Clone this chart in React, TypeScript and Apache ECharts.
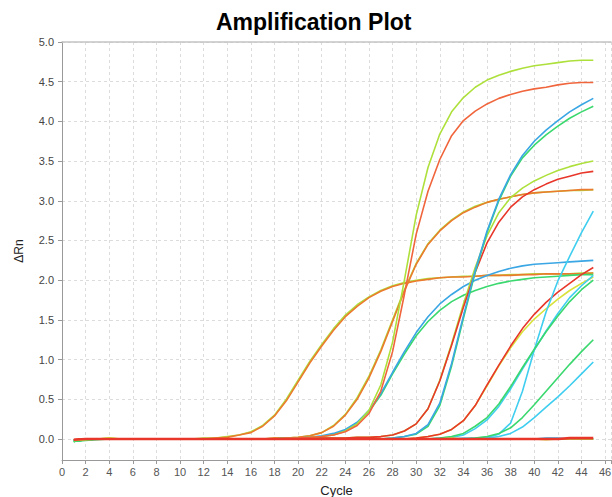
import React, { useEffect, useRef } from "react";
import * as echarts from "echarts";

// PCR cycle numbers (x axis)
const cycles = [
  1, 2, 3, 4, 5, 6, 7, 8, 9, 10, 11, 12, 13, 14, 15,
  16, 17, 18, 19, 20, 21, 22, 23, 24, 25, 26, 27, 28, 29, 30,
  31, 32, 33, 34, 35, 36, 37, 38, 39, 40, 41, 42, 43, 44, 45,
];

// ΔRn per cycle for each well
const earlyYg = [
  -0.02, 0.0, 0.0, 0.01, 0.0, 0.0, 0.0, 0.0, 0.0, 0.0, 0.0, 0.01, 0.01, 0.03, 0.05,
  0.09, 0.17, 0.3, 0.5, 0.74, 0.98, 1.19, 1.39, 1.56, 1.69, 1.79, 1.87, 1.93, 1.97, 2.0,
  2.02, 2.03, 2.04, 2.05, 2.05, 2.06, 2.06, 2.07, 2.07, 2.08, 2.08, 2.08, 2.08, 2.09, 2.09,
];
const earlyOr = [
  -0.01, 0.0, 0.0, 0.0, 0.0, 0.0, 0.0, 0.0, 0.0, 0.0, 0.0, 0.0, 0.01, 0.02, 0.05,
  0.08, 0.16, 0.29, 0.48, 0.72, 0.96, 1.17, 1.37, 1.54, 1.67, 1.78, 1.86, 1.92, 1.96, 1.99,
  2.01, 2.03, 2.04, 2.04, 2.05, 2.06, 2.06, 2.06, 2.07, 2.07, 2.08, 2.08, 2.08, 2.08, 2.09,
];
const midYg = [
  -0.02, 0.0, 0.0, 0.0, 0.0, 0.0, 0.0, 0.0, 0.0, 0.0, 0.0, 0.0, 0.0, 0.0, 0.0,
  0.0, 0.0, 0.01, 0.01, 0.02, 0.04, 0.08, 0.17, 0.31, 0.52, 0.79, 1.12, 1.5, 1.88, 2.21,
  2.46, 2.63, 2.76, 2.86, 2.93, 2.98, 3.02, 3.05, 3.08, 3.1, 3.11, 3.12, 3.13, 3.13, 3.14,
];
const midOr = [
  -0.01, 0.0, 0.0, 0.0, 0.0, 0.0, 0.0, 0.0, 0.0, 0.0, 0.0, 0.0, 0.0, 0.0, 0.0,
  0.0, 0.0, 0.01, 0.01, 0.02, 0.04, 0.08, 0.16, 0.3, 0.5, 0.77, 1.1, 1.48, 1.86, 2.2,
  2.45, 2.62, 2.75, 2.85, 2.92, 2.98, 3.02, 3.05, 3.08, 3.1, 3.11, 3.12, 3.13, 3.14, 3.14,
];
const steepYg = [
  -0.02, 0.0, 0.0, 0.0, 0.0, 0.0, 0.0, 0.0, 0.0, 0.0, 0.0, 0.0, 0.0, 0.0, 0.0,
  0.0, 0.0, 0.0, 0.01, 0.01, 0.02, 0.03, 0.05, 0.1, 0.19, 0.36, 0.68, 1.22, 2.0, 2.82,
  3.42, 3.84, 4.12, 4.3, 4.43, 4.52, 4.58, 4.63, 4.67, 4.7, 4.72, 4.74, 4.76, 4.77, 4.77,
];
const steepOr = [
  -0.01, 0.0, 0.0, 0.0, 0.0, 0.0, 0.0, 0.0, 0.0, 0.0, 0.0, 0.0, 0.0, 0.0, 0.0,
  0.0, 0.0, 0.0, 0.01, 0.01, 0.02, 0.03, 0.05, 0.09, 0.17, 0.32, 0.6, 1.1, 1.82, 2.58,
  3.12, 3.52, 3.82, 4.01, 4.13, 4.22, 4.29, 4.34, 4.38, 4.41, 4.43, 4.46, 4.48, 4.49, 4.49,
];
const tealBlue = [
  -0.02, 0.0, 0.0, 0.0, 0.0, 0.0, 0.0, 0.0, 0.0, 0.0, 0.0, 0.0, 0.0, 0.0, 0.0,
  0.0, 0.0, 0.0, 0.01, 0.01, 0.02, 0.04, 0.07, 0.12, 0.21, 0.36, 0.57, 0.84, 1.1, 1.34,
  1.54, 1.7, 1.82, 1.92, 2.0, 2.06, 2.11, 2.15, 2.18, 2.2, 2.21, 2.22, 2.23, 2.24, 2.25,
];
const tealGreen = [
  -0.03, -0.01, 0.0, 0.0, 0.0, 0.0, 0.0, 0.0, 0.0, 0.0, 0.0, 0.0, 0.0, 0.0, 0.0,
  0.0, 0.0, 0.0, 0.01, 0.01, 0.02, 0.03, 0.06, 0.11, 0.2, 0.35, 0.55, 0.82, 1.07, 1.3,
  1.48, 1.62, 1.73, 1.81, 1.87, 1.92, 1.96, 1.99, 2.01, 2.03, 2.04, 2.05, 2.06, 2.07, 2.07,
];
const p35Yg = [
  -0.02, 0.0, 0.0, 0.0, 0.0, 0.0, 0.0, 0.0, 0.0, 0.0, 0.0, 0.0, 0.0, 0.0, 0.0,
  0.0, 0.0, 0.0, 0.0, 0.0, 0.0, 0.01, 0.01, 0.01, 0.02, 0.02, 0.03, 0.05, 0.1, 0.19,
  0.38, 0.74, 1.2, 1.7, 2.16, 2.56, 2.85, 3.04, 3.16, 3.25, 3.32, 3.38, 3.43, 3.47, 3.5,
];
const p35Red = [
  -0.01, 0.0, 0.0, 0.0, 0.0, 0.0, 0.0, 0.0, 0.0, 0.0, 0.0, 0.0, 0.0, 0.0, 0.0,
  0.0, 0.0, 0.0, 0.0, 0.0, 0.0, 0.01, 0.01, 0.01, 0.02, 0.02, 0.03, 0.05, 0.1, 0.19,
  0.38, 0.73, 1.18, 1.66, 2.1, 2.47, 2.73, 2.92, 3.05, 3.14, 3.21, 3.27, 3.31, 3.35, 3.37,
];
const cbCyan = [
  -0.02, 0.0, 0.0, 0.0, 0.0, 0.0, 0.0, 0.0, 0.0, 0.0, 0.0, 0.0, 0.0, 0.0, 0.0,
  0.0, 0.0, 0.0, 0.0, 0.0, 0.0, 0.0, 0.0, 0.0, 0.0, 0.0, 0.0, 0.01, 0.03, 0.07,
  0.18, 0.45, 0.95, 1.55, 2.12, 2.62, 3.02, 3.33, 3.57, 3.75, 3.89, 4.01, 4.12, 4.21, 4.29,
];
const cbGreen = [
  -0.03, -0.01, 0.0, 0.0, 0.0, 0.0, 0.0, 0.0, 0.0, 0.0, 0.0, 0.0, 0.0, 0.0, 0.0,
  0.0, 0.0, 0.0, 0.0, 0.0, 0.0, 0.0, 0.0, 0.0, 0.0, 0.0, 0.0, 0.01, 0.03, 0.06,
  0.16, 0.42, 0.92, 1.52, 2.1, 2.6, 3.0, 3.31, 3.54, 3.7, 3.83, 3.94, 4.04, 4.12, 4.19,
];
const lateRed = [
  -0.01, 0.0, 0.0, 0.0, 0.0, 0.0, 0.0, 0.0, 0.0, 0.0, 0.0, 0.0, 0.0, 0.0, 0.0,
  0.0, 0.0, 0.0, 0.0, 0.0, 0.0, 0.0, 0.0, 0.0, 0.0, 0.0, 0.0, 0.0, 0.0, 0.01,
  0.03, 0.06, 0.12, 0.23, 0.42, 0.68, 0.93, 1.17, 1.39, 1.57, 1.72, 1.85, 1.96, 2.07, 2.16,
];
const lateYel = [
  -0.02, 0.0, 0.0, 0.0, 0.0, 0.0, 0.0, 0.0, 0.0, 0.0, 0.0, 0.0, 0.0, 0.0, 0.0,
  0.0, 0.0, 0.0, 0.0, 0.0, 0.0, 0.0, 0.0, 0.0, 0.0, 0.0, 0.0, 0.0, 0.0, 0.01,
  0.03, 0.06, 0.12, 0.23, 0.42, 0.67, 0.92, 1.15, 1.35, 1.51, 1.64, 1.76, 1.87, 1.96, 2.04,
];
const lateCyan = [
  -0.02, 0.0, 0.0, 0.0, 0.0, 0.0, 0.0, 0.0, 0.0, 0.0, 0.0, 0.0, 0.0, 0.0, 0.0,
  0.0, 0.0, 0.0, 0.0, 0.0, 0.0, 0.0, 0.0, 0.0, 0.0, 0.0, 0.0, 0.0, 0.0, 0.0,
  0.0, 0.0, 0.0, 0.01, 0.01, 0.02, 0.06, 0.2, 0.6, 1.12, 1.6, 1.99, 2.3, 2.6, 2.87,
];
const lateBlue = [
  -0.02, 0.0, 0.0, 0.0, 0.0, 0.0, 0.0, 0.0, 0.0, 0.0, 0.0, 0.0, 0.0, 0.0, 0.0,
  0.0, 0.0, 0.0, 0.0, 0.0, 0.0, 0.0, 0.0, 0.0, 0.0, 0.0, 0.0, 0.0, 0.0, 0.0,
  0.0, 0.01, 0.02, 0.05, 0.13, 0.24, 0.41, 0.63, 0.88, 1.12, 1.36, 1.58, 1.78, 1.93, 2.06,
];
const lateGreen = [
  -0.03, -0.01, 0.0, 0.0, 0.0, 0.0, 0.0, 0.0, 0.0, 0.0, 0.0, 0.0, 0.0, 0.0, 0.0,
  0.0, 0.0, 0.0, 0.0, 0.0, 0.0, 0.0, 0.0, 0.0, 0.0, 0.0, 0.0, 0.0, 0.0, 0.0,
  0.0, 0.01, 0.03, 0.07, 0.16, 0.27, 0.44, 0.66, 0.9, 1.13, 1.35, 1.55, 1.73, 1.88, 2.0,
];
const vlateGreen = [
  -0.03, -0.01, 0.0, 0.0, 0.0, 0.0, 0.0, 0.0, 0.0, 0.0, 0.0, 0.0, 0.0, 0.0, 0.0,
  0.0, 0.0, 0.0, 0.0, 0.0, 0.0, 0.0, 0.0, 0.0, 0.0, 0.0, 0.0, 0.0, 0.0, 0.0,
  0.0, 0.0, 0.0, 0.0, 0.01, 0.03, 0.07, 0.14, 0.27, 0.43, 0.6, 0.77, 0.94, 1.1, 1.25,
];
const vlateCyan = [
  -0.02, 0.0, 0.0, 0.0, 0.0, 0.0, 0.0, 0.0, 0.0, 0.0, 0.0, 0.0, 0.0, 0.0, 0.0,
  0.0, 0.0, 0.0, 0.0, 0.0, 0.0, 0.0, 0.0, 0.0, 0.0, 0.0, 0.0, 0.0, 0.0, 0.0,
  0.0, 0.0, 0.0, 0.0, 0.0, 0.01, 0.03, 0.07, 0.15, 0.27, 0.4, 0.53, 0.67, 0.82, 0.97,
];
// no-template controls
const ntcBlue = [
  -0.02, -0.01, 0.0, 0.0, 0.0, 0.0, 0.0, 0.0, 0.0, 0.0, 0.0, 0.0, 0.0, 0.0, 0.0,
  0.0, 0.0, 0.0, 0.0, 0.0, 0.0, 0.0, 0.0, 0.0, 0.0, 0.0, 0.0, 0.0, 0.0, 0.0,
  0.0, 0.0, 0.0, 0.0, 0.0, 0.0, 0.0, 0.0, 0.0, 0.0, 0.01, 0.01, 0.0, 0.0, 0.0,
];
const ntcGreen = [
  -0.03, -0.02, -0.01, 0.0, 0.0, 0.0, 0.0, 0.0, 0.0, 0.0, 0.0, 0.0, 0.0, 0.0, 0.0,
  0.0, 0.0, 0.0, 0.0, 0.0, 0.0, 0.0, 0.0, 0.0, 0.0, 0.0, 0.0, 0.0, 0.0, 0.0,
  0.0, 0.0, 0.0, 0.0, 0.0, 0.0, 0.0, 0.0, 0.0, 0.0, 0.0, 0.0, 0.0, 0.0, 0.0,
];
const ntcYellow = [
  -0.02, -0.01, 0.0, 0.01, 0.0, 0.0, 0.0, 0.0, 0.0, 0.0, 0.0, 0.0, 0.0, 0.0, 0.0,
  0.0, 0.0, 0.0, 0.0, 0.0, 0.0, 0.0, 0.0, 0.0, 0.0, 0.0, 0.0, 0.0, 0.0, 0.0,
  0.0, 0.0, 0.01, 0.0, 0.0, 0.0, 0.0, 0.0, 0.0, 0.0, -0.01, 0.0, 0.0, 0.0, 0.0,
];
const ntcRed = [
  -0.01, 0.0, 0.0, 0.0, 0.0, 0.0, 0.0, 0.0, 0.0, 0.0, 0.0, 0.0, 0.0, 0.0, 0.0,
  0.0, 0.0, 0.0, 0.0, 0.0, 0.0, 0.0, 0.0, 0.0, 0.0, 0.0, 0.0, 0.0, 0.0, 0.0,
  0.0, 0.0, 0.0, 0.0, 0.0, 0.0, 0.0, 0.0, 0.0, 0.0, 0.0, 0.0, 0.01, 0.01, 0.01,
];

const YG = "#aee03c";
const ORANGE = "#ec7a2e";
const ORED = "#f0653c";
const BLUE = "#3aa6e4";
const GREEN = "#3ad86e";
const CYAN = "#40cef0";
const RED = "#e8372a";
const YELLOW = "#d9e23a";

// drawing order: later entries sit on top
const wells: { values: number[]; color: string; width?: number }[] = [
  { values: earlyYg, color: YG },
  { values: earlyOr, color: ORANGE },
  { values: midYg, color: YG },
  { values: midOr, color: ORANGE },
  { values: tealGreen, color: GREEN },
  { values: tealBlue, color: BLUE },
  { values: steepYg, color: YG },
  { values: steepOr, color: ORED },
  { values: p35Yg, color: YG },
  { values: p35Red, color: RED },
  { values: cbGreen, color: GREEN },
  { values: cbCyan, color: BLUE },
  { values: lateYel, color: YELLOW },
  { values: lateRed, color: RED },
  { values: lateCyan, color: CYAN },
  { values: lateBlue, color: CYAN },
  { values: lateGreen, color: GREEN },
  { values: vlateCyan, color: CYAN },
  { values: vlateGreen, color: GREEN },
  { values: ntcBlue, color: BLUE },
  { values: ntcGreen, color: GREEN },
  { values: ntcYellow, color: YELLOW },
  { values: ntcRed, color: RED, width: 2.6 },
];

const FONT = "'Liberation Sans', Arial, sans-serif";
const GRID_LINE = { show: true, lineStyle: { color: "#dcdcdc", type: [3, 3] as number[], width: 1 } };

export default function App() {
  const ref = useRef<HTMLDivElement>(null);

  useEffect(() => {
    if (!ref.current) return;
    const chart = echarts.init(ref.current, null, { renderer: "svg" });
    chart.setOption({
      animation: false,
      backgroundColor: "#ffffff",
      title: {
        text: "Amplification Plot",
        left: 211,
        top: 5,
        textStyle: { fontFamily: FONT, fontSize: 23, fontWeight: "bold", color: "#000" },
      },
      grid: { left: 62, right: 1, top: 42, bottom: 37, containLabel: false, outerBoundsMode: "none" },
      xAxis: [
        {
          type: "value",
          min: 0,
          max: 46.5,
          interval: 2,
          name: "Cycle",
          nameLocation: "middle",
          nameGap: 24,
          nameTextStyle: { fontFamily: FONT, fontSize: 13, color: "#222" },
          axisLine: { show: true, onZero: false, lineStyle: { color: "#999", width: 1 } },
          axisTick: { show: true, length: 4, lineStyle: { color: "#999" } },
          axisLabel: {
            fontFamily: FONT,
            fontSize: 11,
            color: "#555",
            margin: 6,
            hideOverlap: false,
            formatter: (v: number) => (v % 2 === 0 ? String(v) : ""),
          },
          splitLine: GRID_LINE,
        },
        {
          type: "value",
          position: "top",
          min: 0,
          max: 46.5,
          axisLine: { show: true, onZero: false, lineStyle: { color: "#c4c4c4", width: 1.5 } },
          axisTick: { show: false },
          axisLabel: { show: false },
          splitLine: { show: false },
        },
      ],
      yAxis: {
        type: "value",
        min: -0.265,
        max: 5,
        splitNumber: 10,
        minInterval: 0.5,
        maxInterval: 0.5,
        name: "ΔRn",
        nameLocation: "middle",
        nameGap: 37,
        nameRotate: 90,
        nameTextStyle: { fontFamily: FONT, fontSize: 12, color: "#222" },
        axisLine: { show: true, lineStyle: { color: "#999", width: 1 } },
        axisTick: { show: true, length: 4, lineStyle: { color: "#999" } },
        axisLabel: {
          fontFamily: FONT,
          fontSize: 11,
          color: "#444",
          margin: 8,
          showMinLabel: false,
          formatter: (v: number) => (v < -0.001 ? "" : v.toFixed(1)),
        },
        splitLine: GRID_LINE,
      },
      series: wells.map((w) => ({
        type: "line",
        xAxisIndex: 0,
        data: cycles.map((c, i) => [c, w.values[i]]),
        showSymbol: false,
        symbol: "none",
        silent: true,
        lineStyle: { color: w.color, width: w.width ?? 1.6 },
        itemStyle: { color: w.color },
      })),
    });
    return () => chart.dispose();
  }, []);

  return (
    <div
      ref={ref}
      style={{ position: "absolute", left: 0, top: 0, width: 612, height: 497, background: "#fff" }}
    />
  );
}
